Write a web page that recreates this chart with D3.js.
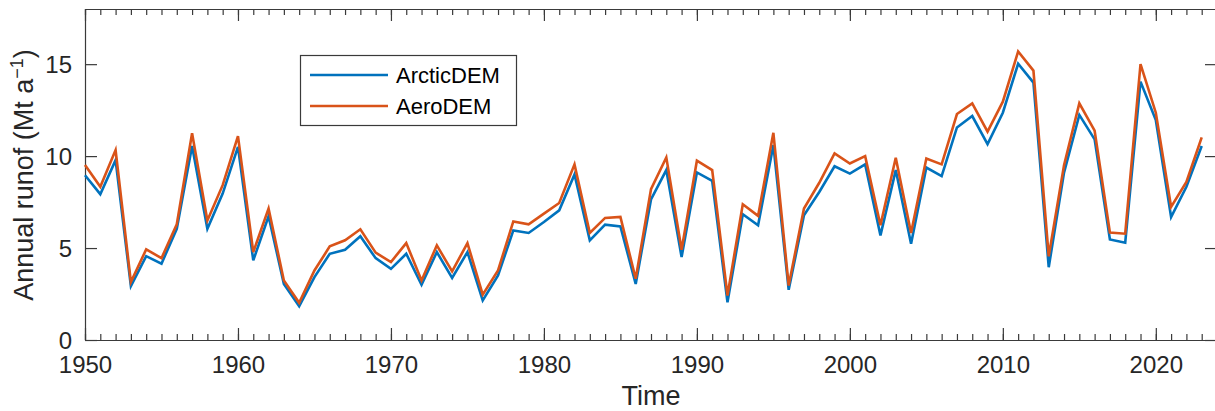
<!DOCTYPE html>
<html>
<head>
<meta charset="utf-8">
<script src="https://cdn.jsdelivr.net/npm/d3@7"></script>
<style>
  body { margin: 0; background: #fff; }
  svg { display: block; font-family: "Liberation Sans", Arial, sans-serif; }
  .axis text { fill: #262626; font-size: 24px; }
  .axis path, .axis line { stroke: #3a3a3a; stroke-width: 1.2; }
</style>
</head>
<body>
<svg id="chart" width="1215" height="411"></svg>
<script>
// yearly values
const years = d3.range(1950, 2024);

const arcticDEM = [
  8.96, 7.93, 9.78, 2.93, 4.56, 4.15, 6.05, 10.55, 6.05, 7.96,
  10.5, 4.33, 6.73, 3.05, 1.84, 3.42, 4.69, 4.91, 5.64, 4.45,
  3.87, 4.69, 3.0, 4.78, 3.38, 4.78, 2.15, 3.51, 5.96, 5.82,
  6.42, 7.05, 9.0, 5.42, 6.27, 6.18, 3.05, 7.64, 9.24, 4.51,
  9.11, 8.65, 2.05, 6.84, 6.24, 10.6, 2.73, 6.78, 8.05, 9.45,
  9.05, 9.55, 5.69, 9.24, 5.24, 9.38, 8.91, 11.56, 12.18, 10.65,
  12.36, 15.02, 14.0, 3.96, 9.1, 12.24, 10.91, 5.47, 5.29, 14.05,
  11.96, 6.69, 8.33, 10.55
];

const aeroDEM = [
  9.51, 8.33, 10.33, 3.15, 4.93, 4.45, 6.29, 11.24, 6.5, 8.42,
  11.09, 4.78, 7.15, 3.24, 2.02, 3.78, 5.09, 5.42, 6.02, 4.75,
  4.24, 5.27, 3.24, 5.15, 3.73, 5.27, 2.47, 3.78, 6.45, 6.29,
  6.87, 7.45, 9.55, 5.82, 6.64, 6.69, 3.33, 8.2, 9.93, 4.91,
  9.75, 9.24, 2.42, 7.38, 6.75, 11.27, 2.96, 7.15, 8.55, 10.15,
  9.6, 10.0, 6.24, 9.91, 5.82, 9.87, 9.55, 12.29, 12.87, 11.33,
  12.96, 15.69, 14.65, 4.55, 9.5, 12.87, 11.38, 5.84, 5.78, 15.0,
  12.36, 7.24, 8.6, 11.02
];

const seriesNames = ["ArcticDEM", "AeroDEM"];
const seriesColors = ["#0072BD", "#D95319"];
const majorYears = d3.range(1950, 2030, 10);
const yTicks = [0, 5, 10, 15];

const svg = d3.select("#chart");
const m = { left: 85, right: 1217, top: 9, bottom: 340 };

const x = d3.scaleLinear().domain([1950, 2024]).range([m.left, m.right]);
const y = d3.scaleLinear().domain([0, 18]).range([m.bottom, m.top]);

// box + ticks (MATLAB style, ticks pointing inwards)
svg.append("g").attr("class", "axis")
  .attr("transform", `translate(0,${m.bottom})`)
  .call(d3.axisBottom(x).tickValues(years).tickSize(-6).tickFormat(""))
  .call(g => g.select(".domain").remove());

svg.append("g").attr("class", "axis")
  .attr("transform", `translate(0,${m.bottom})`)
  .call(d3.axisBottom(x).tickValues(majorYears).tickSizeInner(-12).tickSizeOuter(0).tickPadding(10).tickFormat(d3.format("d")))
  .call(g => g.selectAll("text").attr("dy", "0.95em"));

svg.append("g").attr("class", "axis")
  .attr("transform", `translate(0,${m.top})`)
  .call(d3.axisTop(x).tickValues(years).tickSize(-6).tickFormat(""))
  .call(g => g.select(".domain").remove());

svg.append("g").attr("class", "axis")
  .attr("transform", `translate(0,${m.top})`)
  .call(d3.axisTop(x).tickValues(majorYears).tickSizeInner(-12).tickSizeOuter(0).tickFormat(""));

svg.append("g").attr("class", "axis")
  .attr("transform", `translate(${m.left},0)`)
  .call(d3.axisLeft(y).tickValues(yTicks).tickSizeInner(-12).tickSizeOuter(0).tickPadding(13).tickFormat(d3.format("d")))
  .call(g => g.selectAll("text").attr("dy", "0.36em"));

svg.append("g").attr("class", "axis")
  .attr("transform", `translate(${m.right},0)`)
  .call(d3.axisRight(y).tickValues(yTicks).tickSizeInner(-12).tickSizeOuter(0).tickFormat(""));

// lines
const line = d3.line()
  .x((d, i) => x(years[i]))
  .y(d => y(d));

[arcticDEM, aeroDEM].forEach((s, k) => {
  svg.append("path")
    .datum(s)
    .attr("fill", "none")
    .attr("stroke", seriesColors[k])
    .attr("stroke-width", 2.6)
    .attr("stroke-linejoin", "miter")
    .attr("d", line);
});

// axis titles
svg.append("text")
  .attr("x", (m.left + m.right) / 2)
  .attr("y", 405)
  .attr("text-anchor", "middle")
  .attr("fill", "#262626")
  .attr("font-size", 27)
  .text("Time");

const yTitle = svg.append("text")
  .attr("transform", "translate(33,175) rotate(-90)")
  .attr("text-anchor", "middle")
  .attr("fill", "#262626")
  .attr("font-size", 27);
yTitle.append("tspan").text("Annual runof (Mt a");
yTitle.append("tspan").attr("font-size", 18).attr("dy", -10).text("\u22121");
yTitle.append("tspan").attr("dy", 10).text(")");

// legend
const legend = svg.append("g");
legend.append("rect")
  .attr("x", 300.5).attr("y", 55.5)
  .attr("width", 216).attr("height", 70)
  .attr("fill", "#fff")
  .attr("stroke", "#3a3a3a")
  .attr("stroke-width", 1.2);

seriesNames.forEach((name, k) => {
  const ly = 75 + k * 31;
  legend.append("line")
    .attr("x1", 310).attr("x2", 388)
    .attr("y1", ly).attr("y2", ly)
    .attr("stroke", seriesColors[k])
    .attr("stroke-width", 2.6);
  legend.append("text")
    .attr("x", 396).attr("y", ly + 8)
    .attr("fill", "#000")
    .attr("font-size", 22)
    .text(name);
});
</script>
</body>
</html>
